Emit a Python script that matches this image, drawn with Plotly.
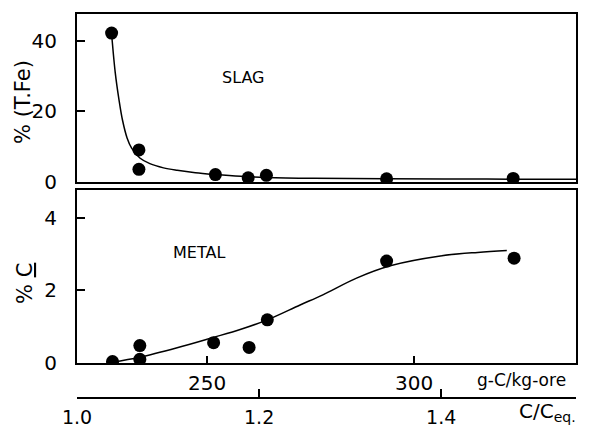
import plotly.graph_objects as go

# ---- data (x in C/Ceq units) ----
slag_x = [1.038, 1.068, 1.068, 1.152, 1.188, 1.208, 1.340, 1.479]
slag_y = [42.2, 9.1, 3.6, 2.1, 1.2, 1.9, 0.9, 1.0]
slag_fit_x = [1.038, 1.042, 1.046, 1.050, 1.055, 1.060, 1.069, 1.080, 1.095, 1.110, 1.130, 1.152, 1.180, 1.208, 1.260, 1.340, 1.450, 1.548]
slag_fit_y = [42.0, 31.0, 23.5, 17.5, 12.5, 9.6, 6.8, 5.2, 4.0, 3.3, 2.6, 2.1, 1.6, 1.3, 1.05, 0.9, 0.82, 0.8]

metal_x = [1.039, 1.069, 1.069, 1.150, 1.189, 1.209, 1.340, 1.480]
metal_y = [0.04, 0.10, 0.48, 0.56, 0.43, 1.19, 2.81, 2.89]
metal_fit_x = [1.038, 1.069, 1.110, 1.149, 1.180, 1.209, 1.245, 1.270, 1.307, 1.344, 1.399, 1.440, 1.472]
metal_fit_y = [0.02, 0.16, 0.42, 0.70, 0.93, 1.19, 1.60, 1.88, 2.34, 2.68, 2.95, 3.05, 3.10]

ratio_ticks = [1.0, 1.2, 1.4]
ratio_labels = ["1.0", "1.2", "1.4"]
gc_ticks = [250, 300]
gc_labels = ["250", "300"]

ratio_range = [1.0, 1.548]
gc_range = [218.6, 339.1]

W, H = 589, 432
L, R, T, B = 77, 13, 14, 34
PW, PH = W - L - R, H - T - B


def px(x):
    return (x - L) / PW


def py(y):
    return (H - B - y) / PH


FONT = "DejaVu Sans"
BLACK = "black"

fig = go.Figure()
fig.add_trace(go.Scatter(x=slag_fit_x, y=slag_fit_y, mode="lines", line=dict(color=BLACK, width=1.5, shape="spline"), xaxis="x", yaxis="y", hoverinfo="skip"))
fig.add_trace(go.Scatter(x=slag_x, y=slag_y, mode="markers", marker=dict(color=BLACK, size=13), xaxis="x", yaxis="y"))
fig.add_trace(go.Scatter(x=metal_fit_x, y=metal_fit_y, mode="lines", line=dict(color=BLACK, width=1.5, shape="spline"), xaxis="x2", yaxis="y2", hoverinfo="skip"))
fig.add_trace(go.Scatter(x=metal_x, y=metal_y, mode="markers", marker=dict(color=BLACK, size=13), xaxis="x4", yaxis="y2"))
# empty carrier so the g-C/kg-ore axis gets drawn
fig.add_trace(go.Scatter(x=[None], y=[None], mode="markers", xaxis="x3", yaxis="y2", hoverinfo="skip"))

tickfont = dict(family=FONT, size=20, color=BLACK)
frame = dict(showline=True, linecolor=BLACK, linewidth=2, mirror=True, showgrid=False, zeroline=False, automargin=False)

fig.update_layout(
    width=W, height=H,
    margin=dict(l=L, r=R, t=T, b=B, pad=0),
    template="none",
    paper_bgcolor="white", plot_bgcolor="white",
    showlegend=False,
    xaxis=dict(domain=[0, 1], range=ratio_range, anchor="y", showticklabels=False, ticks="", **frame),
    yaxis=dict(domain=[py(182), 1], range=[0, 47.6], anchor="x", tickvals=[0, 20, 40], ticktext=["0", "20", "40"],
               ticks="inside", ticklen=8, tickwidth=2, tickcolor=BLACK, tickfont=tickfont, ticklabelstandoff=14, **frame),
    xaxis2=dict(domain=[0, 1], range=ratio_range, anchor="y2", showticklabels=False, ticks="", **frame),
    yaxis2=dict(domain=[py(363), py(190)], range=[0, 4.77], anchor="x2", tickvals=[0, 2, 4], ticktext=["0", "2", "4"],
                ticks="inside", ticklen=8, tickwidth=2, tickcolor=BLACK, tickfont=tickfont, ticklabelstandoff=14, **frame),
    xaxis3=dict(overlaying="x2", anchor="y2", side="bottom", range=gc_range, tickvals=gc_ticks, ticktext=gc_labels,
                ticks="inside", ticklen=7, tickwidth=1.5, tickcolor=BLACK, tickfont=tickfont, ticklabelstandoff=6,
                showline=False, showgrid=False, zeroline=False, automargin=False),
    xaxis4=dict(overlaying="x2", anchor="free", position=0, side="bottom", range=ratio_range, tickvals=ratio_ticks,
                ticktext=ratio_labels, ticks="inside", ticklen=8, tickwidth=2, tickcolor=BLACK,
                tickfont=dict(family=FONT, size=19, color=BLACK),
                ticklabelstandoff=2, showline=True, linecolor=BLACK, linewidth=2, showgrid=False, zeroline=False,
                automargin=False),
)

ann = [
    dict(text="SLAG", x=px(243), y=py(77), size=16),
    dict(text="METAL", x=px(199), y=py(253), size=16),
    dict(text="g-C/kg-ore", x=px(521), y=py(380), size=17),
    dict(text="C/C<sub>eq.</sub>", x=px(547), y=py(412), size=20),
]
for a in ann:
    fig.add_annotation(text=a["text"], x=a["x"], y=a["y"], xref="paper", yref="paper", showarrow=False,
                       xanchor="center", yanchor="middle", font=dict(family=FONT, size=a["size"], color=BLACK))
fig.add_annotation(text="% (T.Fe)", x=px(23), y=py(102), xref="paper", yref="paper", showarrow=False, textangle=-90,
                   xanchor="center", yanchor="middle", font=dict(family=FONT, size=21, color=BLACK))
fig.add_annotation(text="% <u>C</u>", x=px(25), y=py(284), xref="paper", yref="paper", showarrow=False, textangle=-90,
                   xanchor="center", yanchor="middle", font=dict(family=FONT, size=21, color=BLACK))

fig.write_html("out.html", config={"displayModeBar": False},
               post_script="document.body.style.margin='0';document.body.style.padding='0';")
